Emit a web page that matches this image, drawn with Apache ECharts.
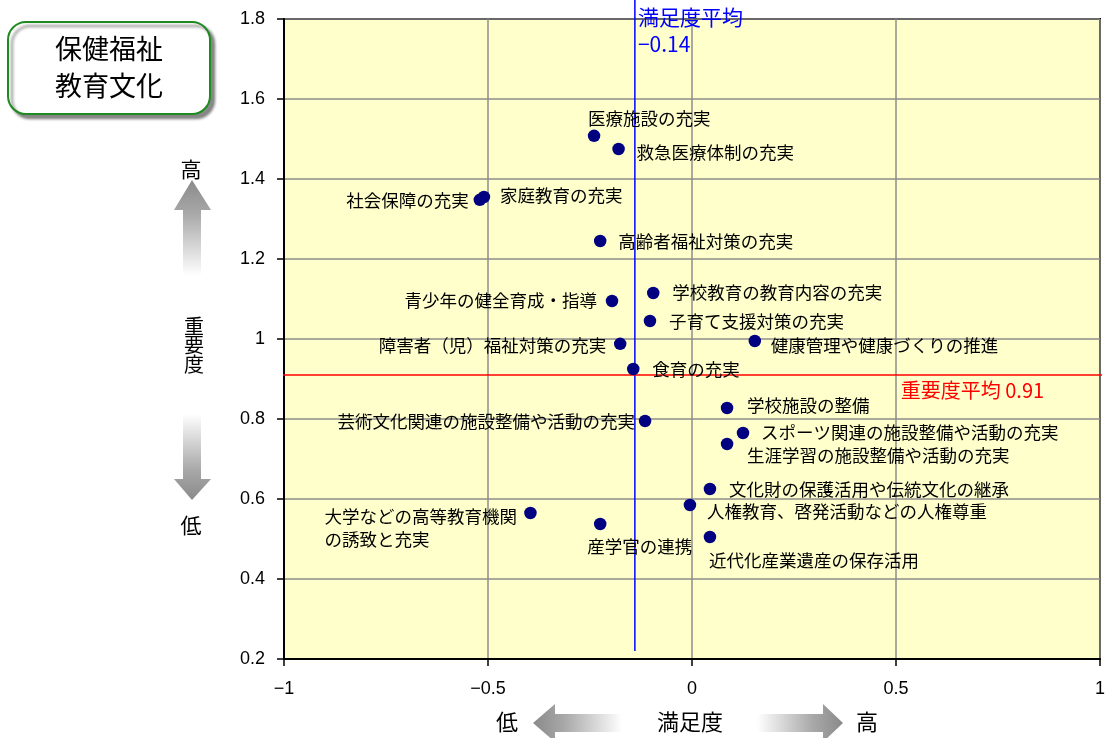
<!DOCTYPE html>
<html lang="ja">
<head>
<meta charset="utf-8">
<title>保健福祉・教育文化 満足度と重要度</title>
<script src="https://cdn.jsdelivr.net/npm/echarts@6/dist/echarts.min.js"></script>
<style>
  html, body { margin: 0; padding: 0; background: #ffffff; }
  #chart { width: 1108px; height: 738px; }
</style>
</head>
<body>
<div id="chart"></div>
<script>
// 施策項目
const categories = [
  '医療施設の充実',
  '救急医療体制の充実',
  '社会保障の充実',
  '家庭教育の充実',
  '高齢者福祉対策の充実',
  '青少年の健全育成・指導',
  '学校教育の教育内容の充実',
  '子育て支援対策の充実',
  '障害者（児）福祉対策の充実',
  '健康管理や健康づくりの推進',
  '食育の充実',
  '学校施設の整備',
  '芸術文化関連の施設整備や活動の充実',
  'スポーツ関連の施設整備や活動の充実',
  '生涯学習の施設整備や活動の充実',
  '文化財の保護活用や伝統文化の継承',
  '人権教育、啓発活動などの人権尊重',
  '大学などの高等教育機関\nの誘致と充実',
  '産学官の連携',
  '近代化産業遺産の保存活用'
];

// 満足度（横軸）
const satisfaction = [
  -0.24, -0.18, -0.52, -0.51, -0.225, -0.196, -0.095, -0.103, -0.176, 0.154,
  -0.144, 0.086, -0.115, 0.125, 0.086, 0.044, -0.005, -0.396, -0.225, 0.044
];

// 重要度（縦軸）
const importance = [
  1.508, 1.475, 1.348, 1.355, 1.245, 1.095, 1.115, 1.045, 0.988, 0.995,
  0.925, 0.8275, 0.795, 0.765, 0.7375, 0.625, 0.585, 0.565, 0.5375, 0.505
];

// 平均値
const meanSatisfaction = -0.14;
const meanImportance = 0.91;

// 軸の範囲
const xRange = { min: -1, max: 1, interval: 0.5 };
const yRange = { min: 0.2, max: 1.8, interval: 0.2 };

// ラベルの配置 [揃え, 横ずれ, 縦ずれ]（点の中心から）
const labelPlacement = {
  '医療施設の充実': ['left', -6, -17],
  '救急医療体制の充実': ['left', 18, 3],
  '社会保障の充実': ['right', -11, 1],
  '家庭教育の充実': ['left', 16, -2],
  '高齢者福祉対策の充実': ['left', 18, 0],
  '青少年の健全育成・指導': ['right', -15, -1],
  '学校教育の教育内容の充実': ['left', 19, -1],
  '子育て支援対策の充実': ['left', 19, 0],
  '障害者（児）福祉対策の充実': ['right', -14, 2],
  '健康管理や健康づくりの推進': ['left', 16, 4],
  '食育の充実': ['left', 19, 0],
  '学校施設の整備': ['left', 20, -3],
  '芸術文化関連の施設整備や活動の充実': ['right', -10, 0],
  'スポーツ関連の施設整備や活動の充実': ['left', 18, -1],
  '生涯学習の施設整備や活動の充実': ['left', 20, 11],
  '文化財の保護活用や伝統文化の継承': ['left', 19, 0],
  '人権教育、啓発活動などの人権尊重': ['left', 17, 6],
  '大学などの高等教育機関\nの誘致と充実': ['left', -206, 15],
  '産学官の連携': ['left', -13, 22],
  '近代化産業遺産の保存活用': ['left', -1, 23]
};

const JP_FONT = '"Noto Sans CJK JP", "Noto Sans", sans-serif';
const NUM_FONT = '"Liberation Sans", Arial, sans-serif';
const minusSign = (v) => String(v).replace('-', '\u2212');

const points = categories.map((name, i) => {
  const p = labelPlacement[name];
  return {
    name: name,
    value: [satisfaction[i], importance[i]],
    label: {
      show: true,
      position: 'inside',
      align: p[0],
      verticalAlign: 'middle',
      offset: [p[1], p[2]],
      formatter: '{b}',
      color: '#000000',
      fontFamily: JP_FONT,
      fontSize: 17.5,
      lineHeight: 23
    }
  };
});

// 矢印の形（装飾）
function arrow(points, vertical, darkAtStart) {
  const gray = '#8a8a8a';
  const stops = darkAtStart
    ? [{ offset: 0, color: gray }, { offset: 0.35, color: '#a8a8a8' }, { offset: 1, color: '#ffffff' }]
    : [{ offset: 0, color: '#ffffff' }, { offset: 0.65, color: '#a8a8a8' }, { offset: 1, color: gray }];
  return {
    type: 'polygon',
    silent: true,
    shape: { points: points },
    style: {
      fill: {
        type: 'linear',
        x: 0, y: 0,
        x2: vertical ? 0 : 1,
        y2: vertical ? 1 : 0,
        colorStops: stops
      }
    }
  };
}

function deco(text, x, y, size, extra) {
  return Object.assign({
    type: 'text',
    silent: true,
    x: x,
    y: y,
    style: {
      text: text,
      fill: '#000000',
      font: size + 'px ' + JP_FONT,
      textAlign: 'center',
      textVerticalAlign: 'middle'
    }
  }, extra || {});
}

const chart = echarts.init(document.getElementById('chart'), null, { renderer: 'canvas' });

chart.setOption({
  animation: false,
  backgroundColor: '#ffffff',
  grid: {
    left: 284,
    right: 6,
    top: 19,
    bottom: 79,
    show: true,
    backgroundColor: '#FFFFCC',
    borderColor: '#000000',
    borderWidth: 2,
    containLabel: false
  },
  xAxis: {
    type: 'value',
    min: xRange.min,
    max: xRange.max,
    interval: xRange.interval,
    axisLine: { show: true, onZero: false, lineStyle: { color: '#000000', width: 2 } },
    axisTick: { show: true, inside: false, length: 7, lineStyle: { color: '#000000', width: 1.5 } },
    splitLine: { show: true, lineStyle: { color: '#8c8c8c', width: 1.5 } },
    axisLabel: {
      margin: 21,
      color: '#000000',
      fontFamily: NUM_FONT,
      fontSize: 18,
      formatter: minusSign
    }
  },
  yAxis: {
    type: 'value',
    min: yRange.min,
    max: yRange.max,
    interval: yRange.interval,
    axisLine: { show: true, onZero: false, lineStyle: { color: '#000000', width: 2 } },
    axisTick: { show: true, inside: false, length: 7, lineStyle: { color: '#000000', width: 1.5 } },
    splitLine: { show: true, lineStyle: { color: '#8c8c8c', width: 1.5 } },
    axisLabel: {
      margin: 19,
      color: '#000000',
      fontFamily: NUM_FONT,
      fontSize: 18,
      formatter: (v) => String(Math.round(v * 10) / 10)
    }
  },
  series: [
    {
      // 満足度平均
      type: 'line',
      clip: false,
      silent: true,
      z: 3,
      symbol: 'circle',
      symbolSize: 1,
      showSymbol: true,
      itemStyle: { color: 'rgba(0,0,0,0)' },
      lineStyle: { color: '#0000FF', width: 1.5 },
      data: [
        {
          value: [meanSatisfaction, 1.85],
          label: {
            show: true,
            position: 'inside',
            align: 'left',
            verticalAlign: 'middle',
            offset: [3, 32],
            color: '#0000FF',
            fontFamily: JP_FONT,
            fontSize: 21,
            lineHeight: 27,
            formatter: () => '満足度平均\n' + minusSign(meanSatisfaction)
          }
        },
        { value: [meanSatisfaction, 0.22] }
      ]
    },
    {
      // 重要度平均
      type: 'line',
      clip: false,
      silent: true,
      z: 3,
      symbol: 'circle',
      symbolSize: 1,
      showSymbol: true,
      itemStyle: { color: 'rgba(0,0,0,0)' },
      lineStyle: { color: '#FF0000', width: 1.5 },
      data: [
        { value: [-1.04, meanImportance] },
        {
          value: [1.015, meanImportance],
          label: {
            show: true,
            position: 'inside',
            align: 'right',
            verticalAlign: 'middle',
            offset: [-62, 15],
            color: '#FF0000',
            fontFamily: JP_FONT,
            fontSize: 20,
            formatter: () => '重要度平均 ' + meanImportance
          }
        }
      ]
    },
    {
      type: 'scatter',
      z: 4,
      symbol: 'circle',
      symbolSize: 12.5,
      itemStyle: { color: '#000080', opacity: 1 },
      emphasis: { disabled: true },
      data: points
    }
  ],
  graphic: [
    // 分野名の枠
    {
      type: 'rect',
      silent: true,
      shape: { x: 8, y: 22, width: 202, height: 92, r: 18 },
      style: {
        fill: '#ffffff',
        stroke: '#1f8a1f',
        lineWidth: 2,
        shadowColor: 'rgba(0,0,0,0.45)',
        shadowBlur: 3,
        shadowOffsetX: 4,
        shadowOffsetY: 4
      }
    },
    deco('保健福祉', 109, 49, 27),
    deco('教育文化', 109, 86, 27),
    // 縦軸（重要度）
    deco('高', 191, 169, 21),
    arrow([[192, 180], [211, 210], [201, 210], [201, 276], [183, 276], [183, 210], [174, 210]], true, true),
    deco('重\n要\n度', 194, 345, 20, {
      style: {
        text: '重\n要\n度',
        fill: '#000000',
        font: '20px ' + JP_FONT,
        textAlign: 'center',
        textVerticalAlign: 'middle',
        lineHeight: 19
      }
    }),
    arrow([[183, 414], [201, 414], [201, 479], [211, 479], [192, 500], [174, 479], [183, 479]], true, false),
    deco('低', 191, 525, 21),
    // 横軸（満足度）
    deco('低', 507, 722, 22),
    arrow([[533, 723], [555, 704], [555, 714], [622, 714], [622, 732], [555, 732], [555, 742]], false, true),
    deco('満足度', 690, 722, 22),
    arrow([[757, 714], [823, 714], [823, 704], [843, 723], [823, 742], [823, 732], [757, 732]], false, false),
    deco('高', 867, 722, 22)
  ]
});
</script>
</body>
</html>
